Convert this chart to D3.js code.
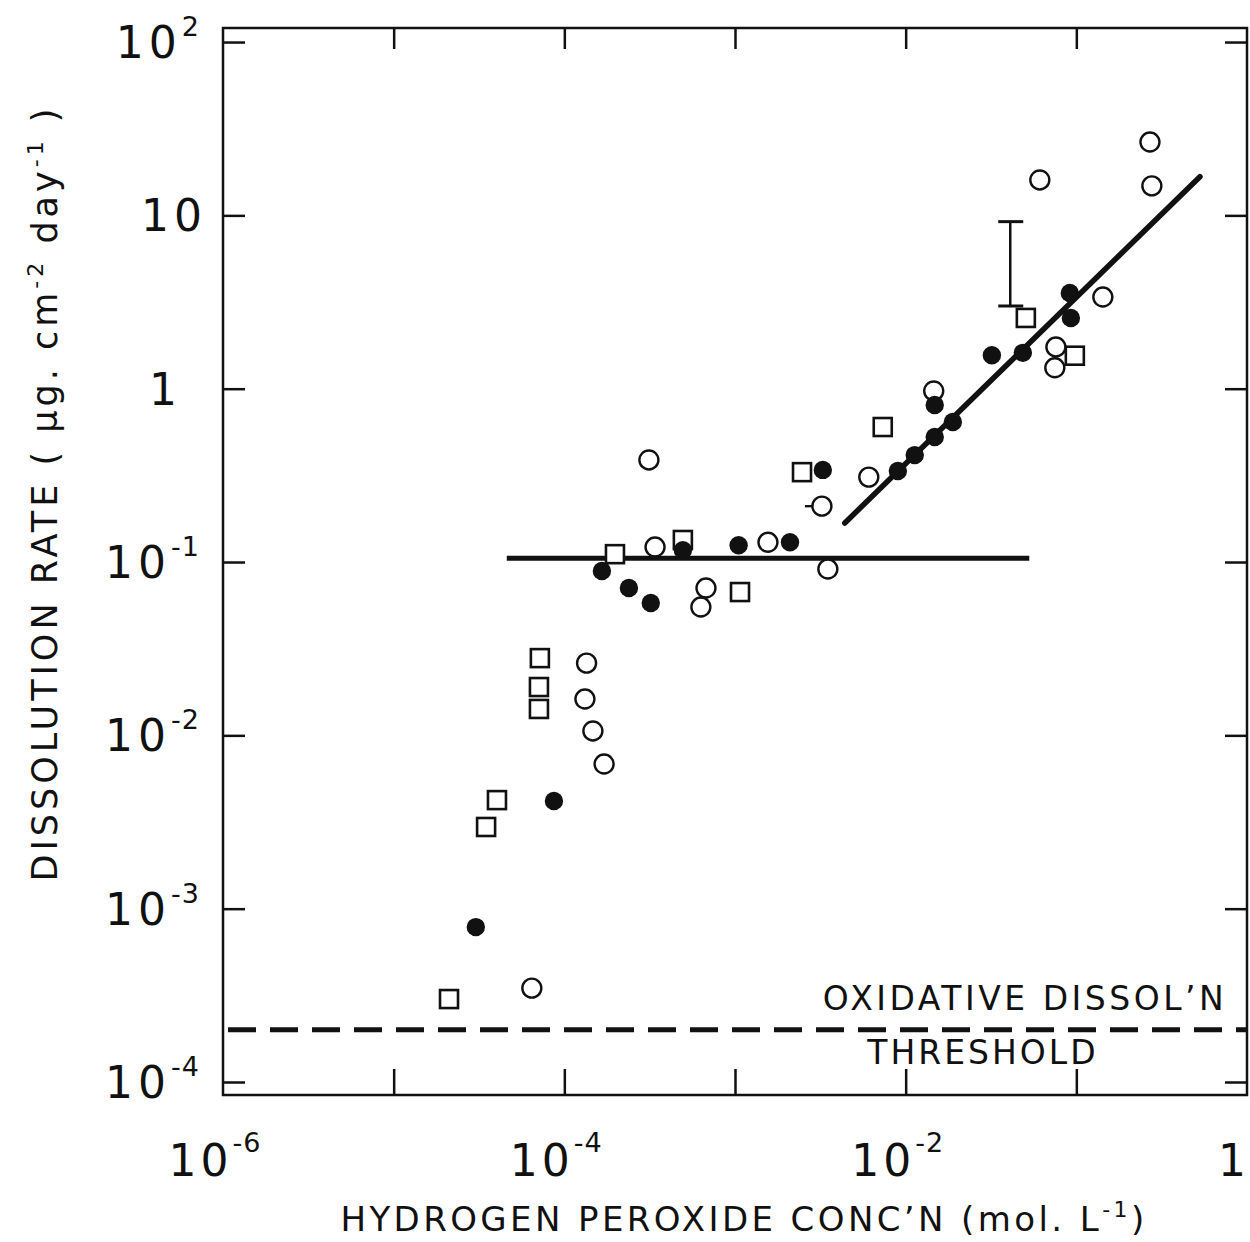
<!DOCTYPE html>
<html><head><meta charset="utf-8">
<script src="https://cdn.jsdelivr.net/npm/d3@7"></script>
<style>
body{margin:0;background:#fff;}
text{font-family:"DejaVu Sans","Liberation Sans",sans-serif;fill:#111;}
</style></head>
<body><svg id="c" width="1250" height="1242"></svg>
<script>
// ---- data (x: H2O2 mol/L, y: dissolution rate µg cm^-2 day^-1) ----
const openSquaresX = [2.11e-5,3.48e-5,4.03e-5,7.19e-5,7.10e-5,7.10e-5,1.98e-4,4.95e-4,1.07e-3,2.47e-3,7.34e-3,0.0506,0.098];
const openSquaresY = [3.01e-4,2.96e-3,4.23e-3,2.79e-2,1.90e-2,1.42e-2,0.111,0.134,0.0671,0.330,0.601,2.56,1.55];
const openCirclesX = [6.45e-5,1.35e-4,1.32e-4,1.47e-4,1.71e-4,3.13e-4,3.40e-4,6.76e-4,6.31e-4,1.56e-3,3.23e-3,3.50e-3,6.08e-3,0.0146,0.0611,0.143,0.0759,0.0748,0.270,0.277];
const openCirclesY = [3.48e-4,2.61e-2,1.62e-2,1.06e-2,6.83e-3,0.388,0.122,0.0708,0.0550,0.130,0.210,0.0911,0.309,0.970,16.0,3.38,1.74,1.32,26.5,14.8];
const flaggedCircle = [3.23e-3, 0.210];   // open circle drawn with a short left flag
const filledCirclesX = [3.03e-5,8.69e-5,1.66e-4,2.39e-4,3.21e-4,4.95e-4,1.05e-3,2.10e-3,3.27e-3,9.0e-3,0.0113,0.0148,0.0189,0.0148,0.0320,0.0486,0.0929,0.0916];
const filledCirclesY = [7.83e-4,4.18e-3,0.0887,0.0708,0.0580,0.117,0.125,0.130,0.340,0.335,0.414,0.526,0.643,0.805,1.56,1.61,2.56,3.57];
const plateauLineX = [4.6e-5, 0.053];
const plateauLineY = [0.105, 0.105];
const slopeLineX = [4.4e-3, 0.53];
const slopeLineY = [0.168, 16.7];
const errorBarX = 0.041;
const errorBarY = [3.0, 9.2];
const thresholdY = 2e-4;
const xTickValues = [1e-5,1e-4,1e-3,1e-2,1e-1];
const xTickLabels = [[1e-6,"10","-6"],[1e-4,"10","-4"],[1e-2,"10","-2"],[1,"1",""]];
const yTickValues = [100,10,1,0.1,0.01,0.001,0.0001];
const yTickLabels = [[100,"10","2"],[10,"10",""],[1,"1",""],[0.1,"10","-1"],[0.01,"10","-2"],[0.001,"10","-3"],[0.0001,"10","-4"]];

const svg = d3.select("#c");
const L=223,R=1247,T=28,B=1095;
const x = d3.scaleLog().domain([1e-6,1]).range([L,R]);
const y = d3.scaleLog().domain([Math.pow(10,-4.075),Math.pow(10,2.081)]).range([B,T]);

// frame
svg.append("rect").attr("x",L).attr("y",T).attr("width",R-L).attr("height",B-T)
  .attr("fill","none").attr("stroke","#111").attr("stroke-width",2.5);

function styleAxis(g){g.select(".domain").remove();g.selectAll("line").attr("stroke","#111").attr("stroke-width",2.5);g.selectAll("text").remove();}
svg.append("g").attr("transform",`translate(0,${B})`).call(d3.axisBottom(x).tickValues(xTickValues).tickSize(-26).tickFormat("")).call(styleAxis);
svg.append("g").attr("transform",`translate(0,${T})`).call(d3.axisTop(x).tickValues(xTickValues).tickSize(-21).tickFormat("")).call(styleAxis);
svg.append("g").attr("transform",`translate(${L},0)`).call(d3.axisLeft(y).tickValues(yTickValues).tickSize(-22).tickFormat("")).call(styleAxis);
svg.append("g").attr("transform",`translate(${R},0)`).call(d3.axisRight(y).tickValues(yTickValues).tickSize(-22).tickFormat("")).call(styleAxis);

// tick labels
xTickLabels.forEach(([v,b,e])=>{
  const t = svg.append("text").attr("y",1176).style("font-size","44px");
  if(!e){ t.attr("x",1246).attr("text-anchor","end").text(b); return; }
  t.attr("x",x(v)-8).attr("text-anchor","middle").style("letter-spacing","4px");
  t.append("tspan").text(b);
  t.append("tspan").attr("dy",-24).style("font-size","27px").style("letter-spacing","1px").text(e);
});
yTickLabels.forEach(([v,b,e])=>{
  let ax = 200;
  if(!e && b==="10") ax = 207;
  const t = svg.append("text").attr("y",y(v)+16).style("font-size","44px");
  if(b==="1"){ t.attr("x",163).attr("text-anchor","middle").text("1"); return; }
  t.attr("x",ax).attr("text-anchor","end").style("letter-spacing","5px");
  t.append("tspan").text(b);
  if(e) t.append("tspan").attr("dy",-22).style("font-size","27px").style("letter-spacing","1px").text(e);
});

// axis titles
const xt = svg.append("text").attr("x",744).attr("y",1231).attr("text-anchor","middle").style("font-size","34px").style("letter-spacing","3.4px");
xt.append("tspan").text("HYDROGEN PEROXIDE CONC\u2019N (mol. L");
xt.append("tspan").attr("dy",-14).style("font-size","22px").text("-1");
xt.append("tspan").attr("dy",14).text(")");
const yt = svg.append("text").attr("transform","translate(57,493) rotate(-90)").attr("text-anchor","middle").style("font-size","35px").style("letter-spacing","4px");
yt.append("tspan").text("DISSOLUTION RATE ( \u03BCg. cm");
yt.append("tspan").attr("dy",-14).style("font-size","22px").text("-2");
yt.append("tspan").attr("dy",14).text(" day");
yt.append("tspan").attr("dy",-14).style("font-size","22px").text("-1");
yt.append("tspan").attr("dy",14).text(" )");

// threshold
svg.append("line").attr("x1",L+5).attr("x2",R).attr("y1",y(thresholdY)).attr("y2",y(thresholdY))
  .attr("stroke","#111").attr("stroke-width",5).attr("stroke-dasharray","28,14");
svg.append("text").attr("x",1025).attr("y",1010).attr("text-anchor","middle").style("font-size","33px").style("letter-spacing","3.5px").text("OXIDATIVE DISSOL\u2019N");
svg.append("text").attr("x",983).attr("y",1064).attr("text-anchor","middle").style("font-size","33px").style("letter-spacing","3px").text("THRESHOLD");

// fit lines
const line = d3.line().x(d=>x(d[0])).y(d=>y(d[1]));
svg.append("path").attr("d",line(d3.zip(plateauLineX,plateauLineY))).attr("stroke","#111").attr("stroke-width",5).attr("fill","none");
svg.append("path").attr("d",line(d3.zip(slopeLineX,slopeLineY))).attr("stroke","#111").attr("stroke-width",5.5).attr("fill","none").attr("stroke-linecap","round");

// error bar
const eb = svg.append("g").attr("stroke","#111").attr("stroke-width",2.5);
eb.append("line").attr("x1",x(errorBarX)).attr("x2",x(errorBarX)).attr("y1",y(errorBarY[0])).attr("y2",y(errorBarY[1]));
errorBarY.forEach(v=>eb.append("line").attr("x1",x(errorBarX)-12).attr("x2",x(errorBarX)+13).attr("y1",y(v)).attr("y2",y(v)).attr("stroke-width",3));

// markers
svg.append("g").selectAll("rect").data(d3.zip(openSquaresX,openSquaresY)).join("rect")
  .attr("x",d=>x(d[0])-9).attr("y",d=>y(d[1])-9).attr("width",18).attr("height",18)
  .attr("fill","#fff").attr("stroke","#111").attr("stroke-width",2.6);
svg.append("g").selectAll("circle").data(d3.zip(openCirclesX,openCirclesY)).join("circle")
  .attr("cx",d=>x(d[0])).attr("cy",d=>y(d[1])).attr("r",9.5)
  .attr("fill","#fff").attr("stroke","#111").attr("stroke-width",2.4);
svg.append("line").attr("x1",x(flaggedCircle[0])-17).attr("x2",x(flaggedCircle[0])-9)
  .attr("y1",y(flaggedCircle[1])).attr("y2",y(flaggedCircle[1])).attr("stroke","#111").attr("stroke-width",2.4);
svg.append("g").selectAll("circle").data(d3.zip(filledCirclesX,filledCirclesY)).join("circle")
  .attr("cx",d=>x(d[0])).attr("cy",d=>y(d[1])).attr("r",9.2).attr("fill","#111");
</script></body></html>
